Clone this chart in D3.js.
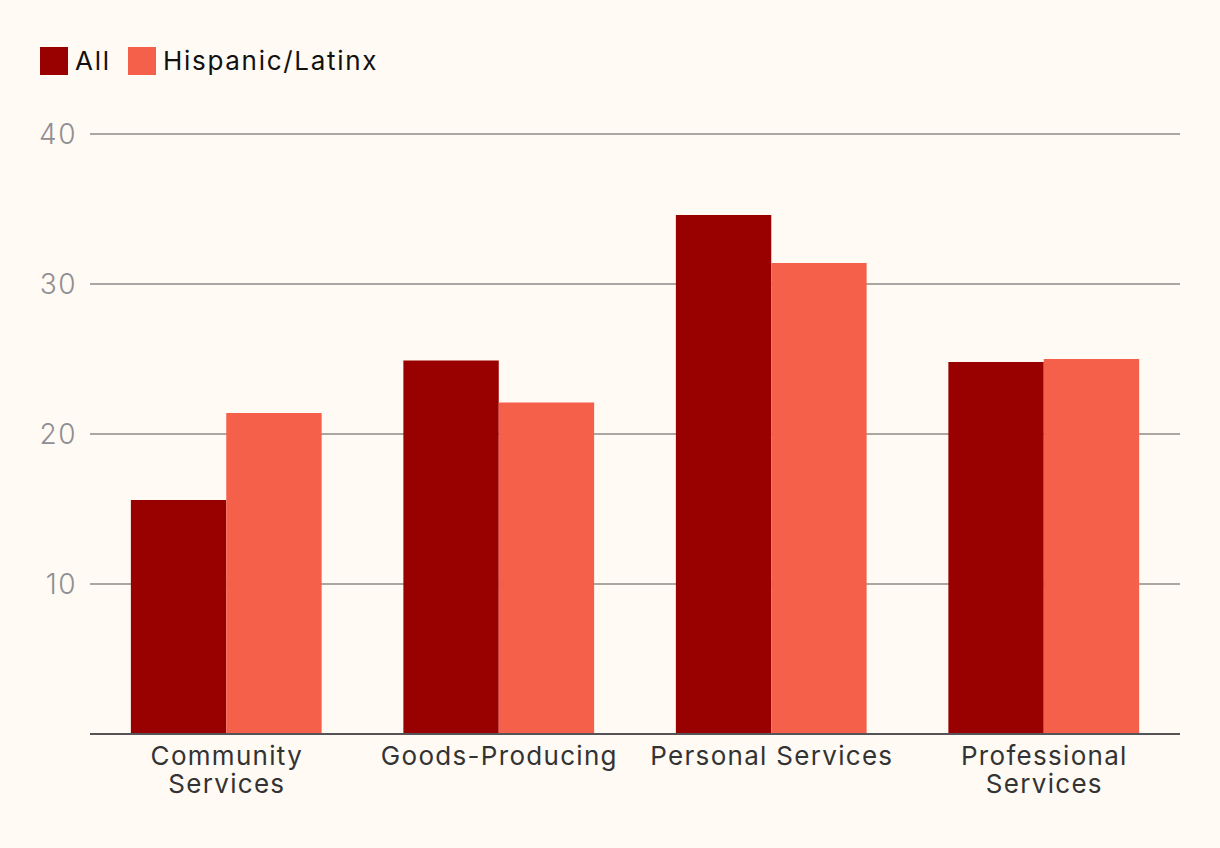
<!DOCTYPE html>
<html>
<head>
<meta charset="utf-8">
<script src="https://cdn.jsdelivr.net/npm/d3@7"></script>
<style>
  html, body { margin: 0; padding: 0; background: #fffaf3; }
  svg { display: block; }
  text { font-family: "Inter", "Open Sans", sans-serif; }
</style>
</head>
<body>
<svg id="chart" width="1220" height="848"></svg>
<script>
const categories = ["Community Services", "Goods-Producing", "Personal Services", "Professional Services"];
const categoryLines = [["Community", "Services"], ["Goods-Producing"], ["Personal Services"], ["Professional", "Services"]];
const seriesNames = ["All", "Hispanic/Latinx"];
const allValues = [15.6, 24.9, 34.6, 24.8];
const hispanicValues = [21.4, 22.1, 31.4, 25.0];
const yTicks = [10, 20, 30, 40];
const colors = ["#990000", "#f5604b"];

const W = 1220, H = 848;
const margin = { left: 90, right: 40, top: 134, bottom: 114 };
const svg = d3.select("#chart");
svg.append("rect").attr("width", W).attr("height", H).attr("fill", "#fffaf3");

const x0 = d3.scaleBand().domain(categories).range([margin.left, W - margin.right]).paddingInner(0.3).paddingOuter(0.15);
const x1 = d3.scaleBand().domain(seriesNames).range([0, x0.bandwidth()]);
const y = d3.scaleLinear().domain([0, 40]).range([H - margin.bottom, margin.top]);

svg.append("g").selectAll("line").data(yTicks).join("line")
  .attr("x1", margin.left).attr("x2", W - margin.right)
  .attr("y1", d => y(d)).attr("y2", d => y(d))
  .attr("stroke", "#8c8a8a").attr("stroke-width", 1.5);

svg.append("g").selectAll("text").data(yTicks).join("text")
  .attr("x", 77).attr("y", d => y(d)).attr("dy", "0.36em")
  .attr("text-anchor", "end").attr("fill", "#8f8e93").attr("font-size", 28).attr("font-weight", 300)
  .attr("letter-spacing", 1.5)
  .text(d => d);

const series = [allValues, hispanicValues];
const g = svg.append("g");
categories.forEach((c, i) => {
  seriesNames.forEach((s, j) => {
    g.append("rect")
      .attr("x", x0(c) + x1(s))
      .attr("width", x1.bandwidth())
      .attr("y", y(series[j][i]))
      .attr("height", y(0) - y(series[j][i]))
      .attr("fill", colors[j]);
  });
});

svg.append("line").attr("x1", margin.left).attr("x2", W - margin.right)
  .attr("y1", y(0)).attr("y2", y(0)).attr("stroke", "#555355").attr("stroke-width", 2);

const xl = svg.append("g");
categories.forEach((c, i) => {
  const cx = x0(c) + x0.bandwidth() / 2 + 0.6;
  const t = xl.append("text").attr("text-anchor", "middle").attr("fill", "#333333").attr("font-size", 26)
    .attr("letter-spacing", 1.3)
    .attr("x", cx).attr("y", y(0) + 31);
  categoryLines[i].forEach((line, k) => {
    t.append("tspan").attr("x", cx).attr("dy", k === 0 ? 0 : 28).text(line);
  });
});

const leg = svg.append("g");
const legX = [40, 128];
seriesNames.forEach((s, j) => {
  leg.append("rect").attr("x", legX[j]).attr("y", 47).attr("width", 28).attr("height", 28).attr("fill", colors[j]);
  leg.append("text").attr("x", legX[j] + 35).attr("y", 61).attr("dy", "0.36em")
    .attr("font-size", 26).attr("letter-spacing", 1.7).attr("fill", "#111").text(s);
});
</script>
</body>
</html>
